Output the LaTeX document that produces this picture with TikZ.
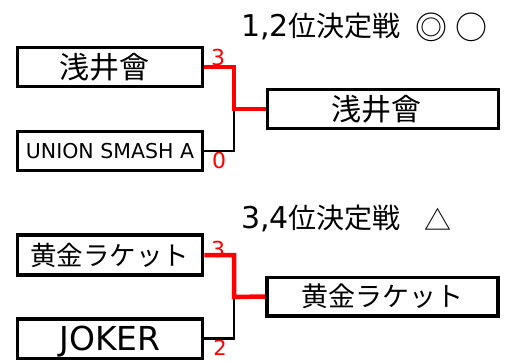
\documentclass[tikz,border=0pt]{standalone}
\usepackage{fontspec}
\setmainfont{DejaVu Sans}
\newfontfamily\cjk{Noto Sans CJK JP}
\begin{document}
\begin{tikzpicture}[x=1pt,y=-1pt,
  team/.style={draw=black,line width=3.5pt,fill=white,minimum width=185pt,minimum height=39pt,inner sep=0pt},
  cjkbox/.style={team,font=\cjk\fontsize{30}{30}\selectfont},
  final/.style={minimum width=231pt},
  score/.style={text=red,inner sep=0pt,text height=16pt,text depth=0pt,font=\fontsize{22}{22}\selectfont},
  title/.style={anchor=base west,inner sep=0pt,font=\fontsize{30}{30}\selectfont},
  mark/.style={inner sep=0pt,font=\cjk\fontsize{#1}{#1}\selectfont},
  win/.style={draw=red,line width=4.5pt},
  lose/.style={draw=black,line width=2.5pt}]
\useasboundingbox (0,0) rectangle (506,361);
% top bracket
\node[title] (t1) at (241,36.5) {1,2{\cjk\fontsize{28}{28}\selectfont 位決定戦}};
\node[mark=32] (m1) at (431.5,27.5) {◎};
\node[mark=32] (m2) at (471.5,27.5) {○};
\node[score] (s1) at (218,57.5) {3};
\node[score] (s2) at (219,160.5) {0};
\coordinate (j1) at (234,109);
\node[cjkbox] (b1) at (110,67) {浅井會\hspace*{11pt}};
\node[team,text height=15pt,text depth=0pt,font=\fontsize{20.5}{20.5}\selectfont] (b2) at (110,151) {UNION SMASH A};
\node[cjkbox,final] (f1) at (383,109) {浅井會\hspace*{13pt}};
\draw[lose] (b2.east) -| (j1);
\draw[win] (b1.east) -| (j1) -- (f1.west);
% bottom bracket
\node[title] (t2) at (241,228) {3,4{\cjk\fontsize{28}{28}\selectfont 位決定戦}};
\node[mark=27] (m3) at (437.5,219) {△};
\node[score] (s3) at (218,249) {3};
\node[score,font=\fontsize{21}{21}\selectfont,text height=15pt] (s4) at (220,348) {2};
\coordinate (j2) at (234,297);
\node[cjkbox,font=\cjk\fontsize{26.5}{26.5}\selectfont,minimum height=40pt] (b3) at (110,255) {黄金ラケット};
\node[team,minimum height=39.5pt,text height=24pt,text depth=0pt,font=\fontsize{33}{33}\selectfont] (b4) at (110,338.7) {JOKER};
\node[cjkbox,final,font=\cjk\fontsize{27}{27}\selectfont,minimum height=38.5pt] (f2) at (382.5,296.5) {黄金ラケット};
\draw[lose] (b4.east) -| (j2);
\draw[win] (b3.east) -| (j2) -- (f2.west);
\end{tikzpicture}
\end{document}
